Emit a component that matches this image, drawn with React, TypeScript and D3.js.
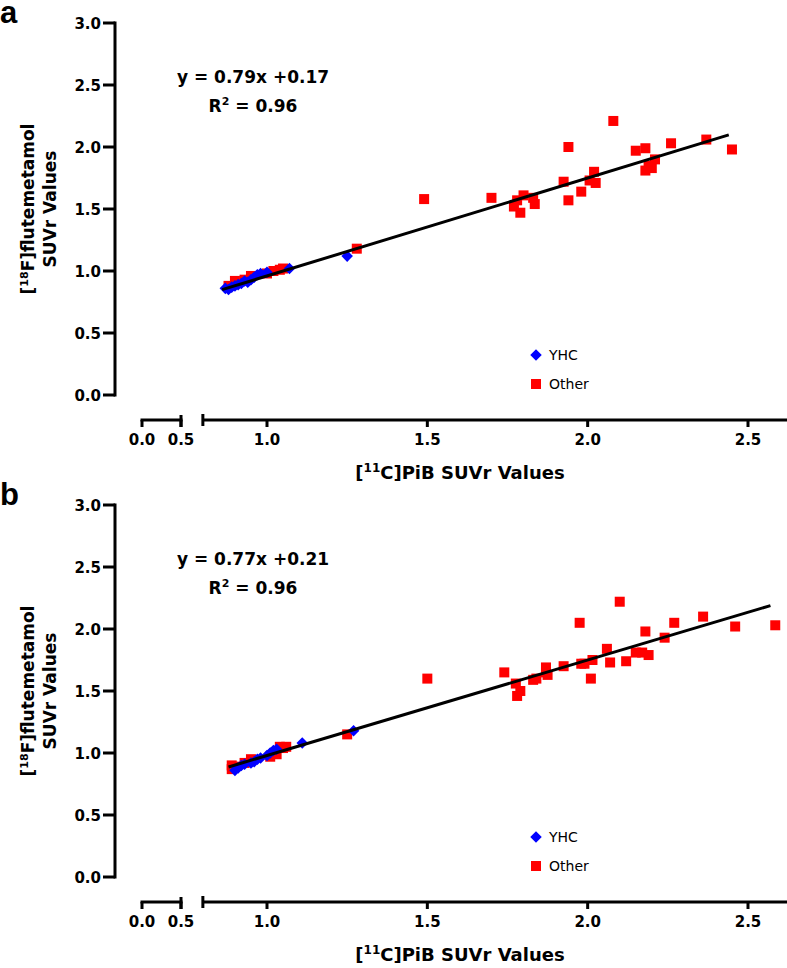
import React from "react";
import * as d3 from "d3";

// ---- Data ----
// Panel a
const yhcA_x = [0.87, 0.88, 0.89, 0.9, 0.91, 0.92, 0.93, 0.94, 0.95, 0.96, 0.97, 0.98, 1.0, 1.07, 1.25];
const yhcA_y = [0.86, 0.85, 0.87, 0.88, 0.89, 0.9, 0.92, 0.91, 0.93, 0.95, 0.97, 0.98, 0.99, 1.02, 1.12];
const otherA_x = [0.88, 0.9, 0.93, 0.95, 1.0, 1.02, 1.04, 1.05, 1.28, 1.49, 1.7, 1.8, 1.78, 1.83, 1.77, 1.835, 1.79, 1.94, 1.925, 1.94, 1.98, 2.02, 2.006, 2.025, 2.08, 2.15, 2.18, 2.21, 2.18, 2.2, 2.19, 2.26, 2.37, 2.45];
const otherA_y = [0.88, 0.92, 0.93, 0.96, 0.98, 1.0, 1.01, 1.02, 1.18, 1.58, 1.59, 1.61, 1.57, 1.59, 1.52, 1.54, 1.47, 2.0, 1.72, 1.57, 1.64, 1.8, 1.73, 1.71, 2.21, 1.97, 1.99, 1.9, 1.81, 1.83, 1.85, 2.03, 2.06, 1.98];
// Panel b
const yhcB_x = [0.9, 0.91, 0.92, 0.93, 0.95, 0.96, 0.97, 0.98, 1.0, 1.01, 1.02, 1.03, 1.11, 1.27];
const yhcB_y = [0.86, 0.88, 0.9, 0.91, 0.92, 0.93, 0.95, 0.96, 0.98, 1.0, 1.02, 1.03, 1.08, 1.18];
const otherB_x = [0.89, 0.89, 0.9, 0.93, 0.95, 1.01, 1.03, 1.05, 1.06, 1.04, 1.25, 1.5, 1.74, 1.776, 1.79, 1.78, 1.83, 1.84, 1.87, 1.87, 1.875, 1.925, 1.975, 1.98, 1.99, 2.015, 2.01, 2.06, 2.07, 2.1, 2.12, 2.15, 2.17, 2.18, 2.19, 2.24, 2.27, 2.36, 2.46, 2.585];
const otherB_y = [0.87, 0.9, 0.89, 0.92, 0.95, 0.97, 0.99, 1.04, 1.05, 1.05, 1.15, 1.6, 1.65, 1.56, 1.5, 1.46, 1.59, 1.6, 1.69, 1.65, 1.63, 1.7, 2.05, 1.72, 1.72, 1.75, 1.6, 1.84, 1.73, 2.22, 1.74, 1.81, 1.81, 1.98, 1.79, 1.93, 2.05, 2.1, 2.02, 2.03];

const fitA = { slope: 0.79, intercept: 0.17, from: 0.86, to: 2.44, eq: "y = 0.79x +0.17", r2: "0.96" };
const fitB = { slope: 0.77, intercept: 0.21, from: 0.88, to: 2.57, eq: "y = 0.77x +0.21", r2: "0.96" };

const yTicks = [0, 0.5, 1.0, 1.5, 2.0, 2.5, 3.0];
const xTicksLeft = [0, 0.5];
const xTicksRight = [1.0, 1.5, 2.0, 2.5];
const seriesNames = ["YHC", "Other"];

const FONT = "'DejaVu Sans', sans-serif";
const BLUE = "#0000ff";
const RED = "#ff0000";

function Panel({ top, label, yhcX, yhcY, otherX, otherY, fit }) {
  const y = d3.scaleLinear().domain([0, 3]).range([top + 372, top]);
  const xL = d3.scaleLinear().domain([0, 0.5]).range([142, 181]);
  const xR = d3.scaleLinear().domain([1.0, 2.5]).range([267, 748]);
  const axisY = top + 397;
  const yAxisX = 115;
  const rightStart = 0.8;
  const rightEnd = 2.64;
  const line = d3
    .line<[number, number]>()
    .x((d) => xR(d[0]))
    .y((d) => y(d[1]));
  const fitPts: [number, number][] = [
    [fit.from, fit.slope * fit.from + fit.intercept],
    [fit.to, fit.slope * fit.to + fit.intercept],
  ];
  const diamond = d3.symbol().type(d3.symbolDiamond2).size(85)();
  const sq = 10;
  const legX = 536;
  const legY1 = top + 332;
  const legY2 = top + 361;
  return (
    <g>
      <text x={0} y={top} fontFamily="'Liberation Sans', Arial, sans-serif" fontWeight="bold" fontSize={31}>
        {label}
      </text>
      {/* Y axis */}
      <line x1={yAxisX} x2={yAxisX} y1={y(0) + 1.5} y2={y(3) - 1.5} stroke="#000" strokeWidth={3} />
      {yTicks.map((t) => (
        <g key={t}>
          <line x1={yAxisX - 12} x2={yAxisX} y1={y(t)} y2={y(t)} stroke="#000" strokeWidth={3} />
          <text x={yAxisX - 14} y={y(t) + 5.5} textAnchor="end" fontFamily={FONT} fontWeight="bold" fontSize={15}>
            {t.toFixed(1)}
          </text>
        </g>
      ))}
      <text transform={`translate(34,${y(1.5)}) rotate(-90)`} textAnchor="middle" fontFamily={FONT} fontWeight="bold" fontSize={17}>
        [<tspan dy={-6} fontSize={11}>18</tspan>
        <tspan dy={6}>F]flutemetamol</tspan>
      </text>
      <text transform={`translate(56,${y(1.5)}) rotate(-90)`} textAnchor="middle" fontFamily={FONT} fontWeight="bold" fontSize={17}>
        SUVr Values
      </text>
      {/* X axis left segment */}
      <line x1={xL(0) - 1.5} x2={xL(0.5) + 1.5} y1={axisY} y2={axisY} stroke="#000" strokeWidth={3} />
      <line x1={xL(0.5)} x2={xL(0.5)} y1={axisY - 5} y2={axisY + 7} stroke="#000" strokeWidth={3} />
      {xTicksLeft.map((t) => (
        <g key={"l" + t}>
          <line x1={xL(t)} x2={xL(t)} y1={axisY} y2={axisY + 7} stroke="#000" strokeWidth={3} />
          <text x={xL(t)} y={axisY + 25} textAnchor="middle" fontFamily={FONT} fontWeight="bold" fontSize={15}>
            {t.toFixed(1)}
          </text>
        </g>
      ))}
      {/* X axis right segment */}
      <line x1={xR(rightStart)} x2={xR(rightEnd)} y1={axisY} y2={axisY} stroke="#000" strokeWidth={3} />
      <line x1={xR(rightStart)} x2={xR(rightStart)} y1={axisY - 6} y2={axisY + 6} stroke="#000" strokeWidth={3} />
      {xTicksRight.map((t) => (
        <g key={"r" + t}>
          <line x1={xR(t)} x2={xR(t)} y1={axisY} y2={axisY + 7} stroke="#000" strokeWidth={3} />
          <text x={xR(t)} y={axisY + 25} textAnchor="middle" fontFamily={FONT} fontWeight="bold" fontSize={15}>
            {t.toFixed(1)}
          </text>
        </g>
      ))}
      <text x={460} y={axisY + 59} textAnchor="middle" fontFamily={FONT} fontWeight="bold" fontSize={18}>
        [<tspan dy={-7} fontSize={12}>11</tspan>
        <tspan dy={7}>C]PiB SUVr Values</tspan>
      </text>
      {/* Equation */}
      <text x={253} y={top + 60} textAnchor="middle" fontFamily={FONT} fontWeight="bold" fontSize={17}>
        {fit.eq}
      </text>
      <text x={253} y={top + 89} textAnchor="middle" fontFamily={FONT} fontWeight="bold" fontSize={17}>
        R<tspan dy={-7} fontSize={11}>2</tspan>
        <tspan dy={7}> = {fit.r2}</tspan>
      </text>
      {/* Points */}
      {otherX.map((xv, i) => (
        <rect key={"o" + i} x={xR(xv) - sq / 2} y={y(otherY[i]) - sq / 2} width={sq} height={sq} fill={RED} />
      ))}
      {yhcX.map((xv, i) => (
        <path key={"y" + i} d={diamond} transform={`translate(${xR(xv)},${y(yhcY[i])})`} fill={BLUE} />
      ))}
      {/* Fit line */}
      <path d={line(fitPts)} stroke="#000" strokeWidth={3} fill="none" />
      {/* Legend */}
      <path d={diamond} transform={`translate(${legX},${legY1})`} fill={BLUE} />
      <text x={legX + 13} y={legY1 + 5} fontFamily={FONT} fontSize={14}>
        {seriesNames[0]}
      </text>
      <rect x={legX - sq / 2} y={legY2 - sq / 2} width={sq} height={sq} fill={RED} />
      <text x={legX + 13} y={legY2 + 5} fontFamily={FONT} fontSize={14}>
        {seriesNames[1]}
      </text>
    </g>
  );
}

export default function App() {
  return (
    <svg
      width={787}
      height={968}
      style={{ position: "absolute", left: 0, top: 0, background: "#fff" }}
    >
      <rect width={787} height={968} fill="#fff" />
      <Panel top={23} label="a" yhcX={yhcA_x} yhcY={yhcA_y} otherX={otherA_x} otherY={otherA_y} fit={fitA} />
      <Panel top={505} label="b" yhcX={yhcB_x} yhcY={yhcB_y} otherX={otherB_x} otherY={otherB_y} fit={fitB} />
    </svg>
  );
}
